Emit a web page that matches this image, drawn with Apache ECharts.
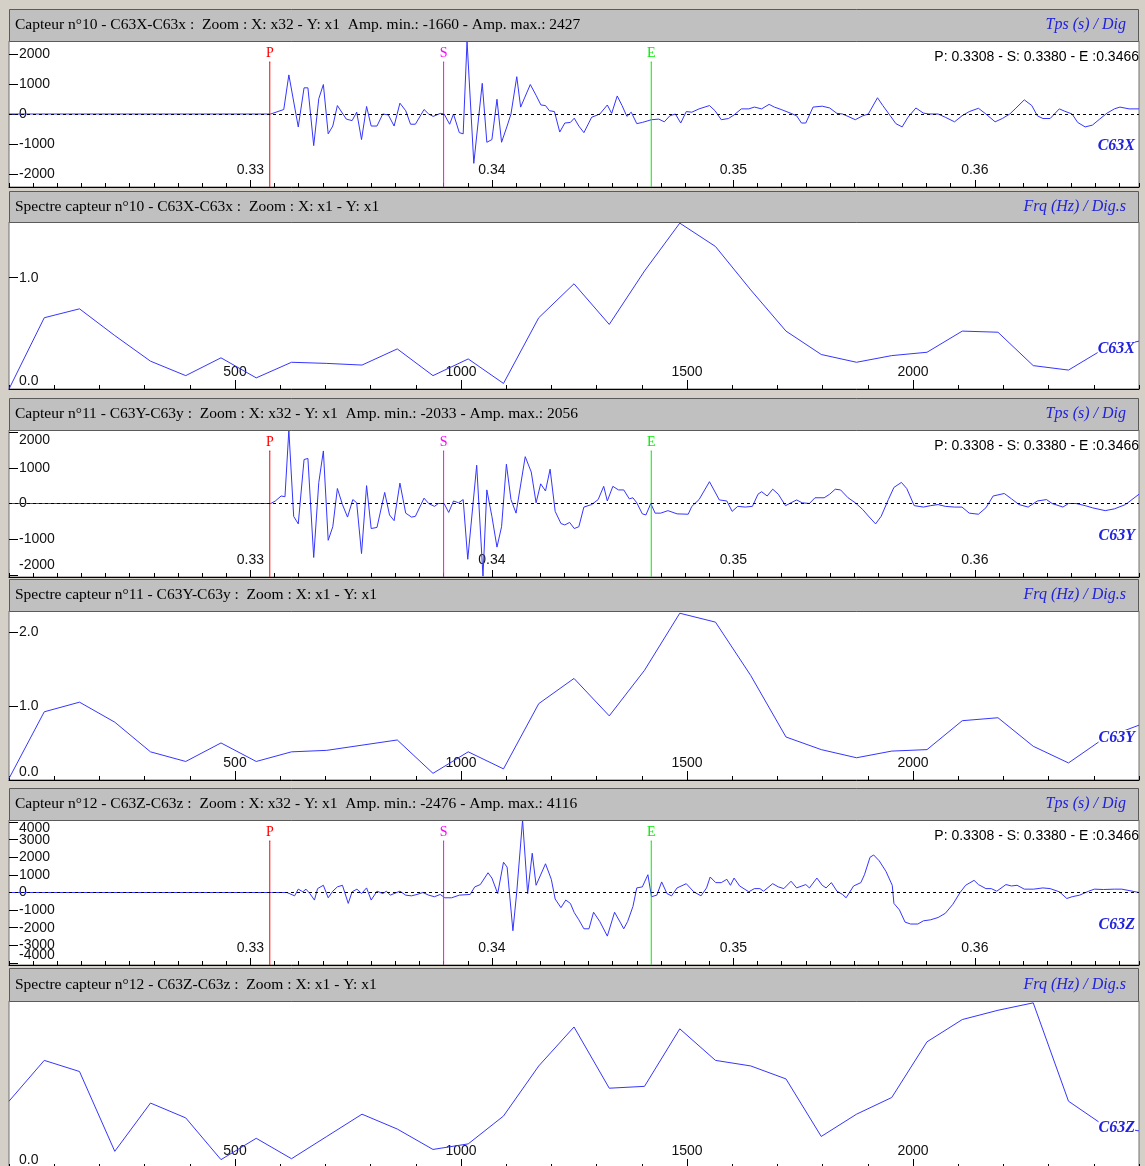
<!DOCTYPE html>
<html>
<head>
<meta charset="utf-8">
<script src="https://cdn.jsdelivr.net/npm/echarts@6/dist/echarts.min.js"></script>
<style>
html,body{margin:0;padding:0;background:#d4d0c8;}
#main{width:1145px;height:1166px;}
</style>
</head>
<body>
<div id="main"></div>
<script>
// ---- data ----
var timeTicks = [0.33, 0.34, 0.35, 0.36];
var freqTicks = [500, 1000, 1500, 2000];
var ampTicksX = [-2000, -1000, 0, 1000, 2000];
var ampTicksY = [-2000, -1000, 0, 1000, 2000];
var ampTicksZ = [-4000, -3000, -2000, -1000, 0, 1000, 2000, 3000, 4000];
var specTicksX = [0, 1];
var specTicksY = [0, 1, 2];
var specTicksZ = [0];

var channels = ['C63X', 'C63Y', 'C63Z'];
var ampMin = [-1660, -2033, -2476];
var ampMax = [2427, 2056, 4116];
var specMax = [1.5, 2.28, 0.9];

var timeTitles = [
  'Capteur n°10 - C63X-C63x :  Zoom : X: x32 - Y: x1  Amp. min.: -1660 - Amp. max.: 2427',
  'Capteur n°11 - C63Y-C63y :  Zoom : X: x32 - Y: x1  Amp. min.: -2033 - Amp. max.: 2056',
  'Capteur n°12 - C63Z-C63z :  Zoom : X: x32 - Y: x1  Amp. min.: -2476 - Amp. max.: 4116'
];
var specTitles = [
  'Spectre capteur n°10 - C63X-C63x :  Zoom : X: x1 - Y: x1',
  'Spectre capteur n°11 - C63Y-C63y :  Zoom : X: x1 - Y: x1',
  'Spectre capteur n°12 - C63Z-C63z :  Zoom : X: x1 - Y: x1'
];

var pickNames = ['P', 'S', 'E'];
var pickTimes = [0.3308, 0.3380, 0.3466];
var pickColors = ['#ff0000', '#ff00ff', '#00ee00'];

var xTime = [0.32, 0.33084, 0.33090, 0.33138, 0.33159, 0.33198, 0.33222, 0.33238, 0.33262, 0.33283, 0.33302, 0.33322, 0.33341, 0.33360, 0.33397, 0.33421, 0.33440, 0.33460, 0.33481, 0.33500, 0.33524, 0.33548, 0.33571, 0.33595, 0.33619, 0.33643, 0.33663, 0.33683, 0.33719, 0.33738, 0.33757, 0.33786, 0.33802, 0.33825, 0.33841, 0.33865, 0.33881, 0.33897, 0.33925, 0.33960, 0.33979, 0.34000, 0.34021, 0.34040, 0.34063, 0.34079, 0.34103, 0.34119, 0.34159, 0.34183, 0.34203, 0.34222, 0.34238, 0.34259, 0.34281, 0.34302, 0.34325, 0.34341, 0.34360, 0.34381, 0.34413,
  0.34447, 0.34478, 0.34496, 0.34519, 0.34539, 0.34559, 0.34577, 0.34600, 0.34623, 0.34661, 0.34691, 0.34714, 0.34737, 0.34760, 0.34782, 0.34805, 0.34828, 0.34858, 0.34901, 0.34924, 0.34950, 0.34980, 0.35003, 0.35033, 0.35064, 0.35087, 0.35117, 0.35148, 0.35170, 0.35201, 0.35239, 0.35262, 0.35282, 0.35300, 0.35330, 0.35368, 0.35399, 0.35429, 0.35452, 0.35475, 0.35505, 0.35536, 0.35559, 0.35597, 0.35619, 0.35650, 0.35673, 0.35699, 0.35723, 0.35756, 0.35787, 0.35810, 0.35848, 0.35878, 0.35916, 0.35947, 0.35977, 0.36015, 0.36046, 0.36084, 0.36114, 0.36145, 0.36167, 0.36205, 0.36236, 0.36259, 0.36282, 0.36312, 0.36350, 0.36373, 0.36403, 0.36426, 0.36457, 0.36487, 0.36517, 0.36548, 0.36578, 0.36601, 0.36639, 0.36680];
var xAmp = [0, 0, 60, 150, 1300, -430, 870, 870, -1050, 510, 980, -660, -400, 280, -170, -220, 60, -850, 250, -400, -400, 0, -30, -400, 360, 110, -340, -340, 150, 0, -80, 20, 0, -340, 0, -620, -660, 2427, -1640, 1020, -940, -850, 490, -940, -400, 0, 1240, 230, 980, 620, 300, 280, 110, 80, -600, -300, -280, -140, -400, -620, -110,
  0, 300, 20, 600, 280, -80, 60, -320, -280, -190, -170, -260, -60, 0, -300, 80, 60, 170, 280, 110, -190, -150, -30, 170, 170, 230, 170, 320, 230, 140, 20, -60, -300, -300, 230, 260, 200, 20, 0, -80, -190, -60, 0, 540, 280, -60, -320, -430, -110, 200, 30, 0, 0, -110, -260, -60, 80, 190, 0, -260, -150, 0, 170, 470, 280, -60, -150, -150, 170, 90, 0, -280, -430, -370, -170, 30, 170, 230, 170, 170];

var yTime = [0.32, 0.33084, 0.33103, 0.33127, 0.33143, 0.33159, 0.33179, 0.33198, 0.33222, 0.33238, 0.33262, 0.33283, 0.33302, 0.33322, 0.33341, 0.33360, 0.33381, 0.33402, 0.33424, 0.33440, 0.33460, 0.33481, 0.33500, 0.33524, 0.33556, 0.33576, 0.33595, 0.33619, 0.33643, 0.33667, 0.33683, 0.33719, 0.33738, 0.33762, 0.33778, 0.33802, 0.33821, 0.33841, 0.33862, 0.33881, 0.33900, 0.33937, 0.33963, 0.33979, 0.34000, 0.34021, 0.34040, 0.34060, 0.34079, 0.34100, 0.34138, 0.34163, 0.34183, 0.34202, 0.34222, 0.34241, 0.34262, 0.34286, 0.34302, 0.34322, 0.34341, 0.34360, 0.34381, 0.34413,
  0.34440, 0.34463, 0.34478, 0.34501, 0.34524, 0.34546, 0.34569, 0.34584, 0.34600, 0.34623, 0.34638, 0.34658, 0.34676, 0.34699, 0.34729, 0.34767, 0.34813, 0.34828, 0.34858, 0.34901, 0.34942, 0.34973, 0.34995, 0.35018, 0.35049, 0.35079, 0.35102, 0.35117, 0.35140, 0.35163, 0.35186, 0.35216, 0.35239, 0.35262, 0.35285, 0.35315, 0.35338, 0.35376, 0.35399, 0.35422, 0.35444, 0.35475, 0.35505, 0.35536, 0.35559, 0.35589, 0.35612, 0.35642, 0.35665, 0.35696, 0.35718, 0.35749, 0.35787, 0.35817, 0.35848, 0.35878, 0.35916, 0.35947, 0.35977, 0.36015, 0.36046, 0.36076, 0.36122, 0.36152, 0.36183, 0.36221, 0.36259, 0.36297, 0.36320, 0.36365, 0.36388, 0.36419, 0.36457, 0.36487, 0.36540, 0.36578, 0.36624, 0.36680];
var yAmp = [0, 0, 70, 210, 190, 2056, -360, -570, 1230, 1260, -1510, 590, 1470, -1030, -650, 420, -30, -380, 110, 20, -1400, 500, -700, -670, 310, -320, -480, 570, -270, -380, -360, 150, 0, -80, 0, 0, -250, 70, 20, 110, -1560, 1070, -2033, 380, -360, -1220, -650, 1100, 110, -270, 1310, 880, 20, 550, 350, 960, -220, -560, -600, -530, -700, -650, -100, -30,
  110, 480, 70, 480, 380, 380, 130, 160, 20, -290, -320, 0, -270, -270, -200, -290, -300, -80, 110, 610, 100, 70, -220, -80, -100, -80, 260, 330, 210, 400, 260, -60, 20, 100, 20, 0, 160, 160, 260, 400, 380, 160, 20, -170, -350, -570, -360, 110, 450, 590, 420, -60, -100, -60, -30, -80, -100, -100, -270, -300, -120, 210, 280, 130, -30, -100, 70, 110, 0, -100, 0, 0, -60, -120, -200, -150, -30, 260];

var zTime = [0.32, 0.33087, 0.33151, 0.33159, 0.33183, 0.33198, 0.33217, 0.33230, 0.33246, 0.33265, 0.33278, 0.33302, 0.33322, 0.33341, 0.33360, 0.33381, 0.33405, 0.33421, 0.33441, 0.33460, 0.33481, 0.33500, 0.33524, 0.33548, 0.33563, 0.33579, 0.33619, 0.33643, 0.33667, 0.33690, 0.33714, 0.33738, 0.33762, 0.33786, 0.33805, 0.33833, 0.33865, 0.33910, 0.33929, 0.33952, 0.33984, 0.34000, 0.34024, 0.34048, 0.34063, 0.34087, 0.34103, 0.34127, 0.34148, 0.34167, 0.34183, 0.34222, 0.34246, 0.34262, 0.34286, 0.34306, 0.34325, 0.34341, 0.34360, 0.34381, 0.34402, 0.34421,
  0.34447, 0.34478, 0.34508, 0.34531, 0.34546, 0.34562, 0.34584, 0.34600, 0.34623, 0.34646, 0.34661, 0.34683, 0.34703, 0.34725, 0.34744, 0.34767, 0.34805, 0.34836, 0.34866, 0.34889, 0.34904, 0.34927, 0.34950, 0.34973, 0.34988, 0.35003, 0.35026, 0.35064, 0.35087, 0.35110, 0.35125, 0.35163, 0.35186, 0.35209, 0.35239, 0.35262, 0.35300, 0.35315, 0.35346, 0.35368, 0.35384, 0.35406, 0.35429, 0.35452, 0.35467, 0.35498, 0.35528, 0.35543, 0.35566, 0.35581, 0.35604, 0.35632, 0.35658, 0.35665, 0.35688, 0.35711, 0.35734, 0.35764, 0.35787, 0.35817, 0.35848, 0.35878, 0.35909, 0.35939, 0.35962, 0.35997, 0.36015, 0.36046, 0.36068, 0.36091, 0.36129, 0.36152, 0.36175, 0.36205, 0.36244, 0.36282, 0.36312, 0.36350, 0.36381, 0.36403, 0.36434, 0.36472, 0.36495, 0.36533, 0.36578, 0.36609, 0.36680];
var zAmp = [0, 0, 0, 75, -190, 190, 40, 190, -60, -430, 220, 410, -300, 75, 320, 410, -620, 40, 190, -60, 260, -430, 75, -60, 75, -150, 75, -150, -190, -110, 0, -150, -240, -110, -300, -300, -150, -110, 320, 450, 1120, 820, -60, 1720, 1440, -2170, 40, 4116, -60, 2230, 410, 1630, 750, -370, -860, -430, -620, -1140, -1550, -2060, -2060, -1120,
  -1650, -2476, -1120, -1680, -2060, -1650, -800, 260, 320, 1010, -240, -150, 600, -60, -190, 260, 500, 40, -190, 260, 880, 560, 560, 750, 410, 820, 370, 40, 220, 220, 75, 500, 320, 220, 640, 260, 450, 260, 820, 410, 260, 560, 75, -110, -300, 370, 560, 1010, 2000, 2130, 1800, 1200, 410, -620, -990, -1680, -1790, -1790, -1610, -1550, -1420, -1180, -670, 0, 410, 690, 450, 220, 220, 75, 450, 370, 410, 190, 190, 260, 220, 40, -340, -240, -150, 75, 190, 170, 190, 190, 0];

var specFreq = [0, 78, 156, 234, 313, 391, 469, 547, 625, 703, 781, 859, 938, 1016, 1094, 1172, 1250, 1328, 1406, 1484, 1563, 1641, 1719, 1797, 1875, 1953, 2031, 2109, 2188, 2266, 2344, 2422, 2500];
var specX = [0, 0.64, 0.72, 0.48, 0.25, 0.12, 0.28, 0.10, 0.24, 0.23, 0.215, 0.36, 0.12, 0.27, 0.05, 0.64, 0.945, 0.58, 1.06, 1.49, 1.28, 0.89, 0.52, 0.31, 0.24, 0.30, 0.33, 0.52, 0.51, 0.21, 0.17, 0.36, 0.43];
var specY = [0.02, 0.92, 1.05, 0.78, 0.38, 0.25, 0.50, 0.25, 0.38, 0.40, 0.47, 0.54, 0.09, 0.38, 0.15, 1.03, 1.37, 0.865, 1.48, 2.25, 2.13, 1.41, 0.58, 0.41, 0.30, 0.39, 0.41, 0.80, 0.84, 0.455, 0.23, 0.56, 0.74];
var specZ = [0.36, 0.58, 0.52, 0.09, 0.35, 0.27, 0.045, 0.16, 0.05, 0.17, 0.29, 0.21, 0.10, 0.13, 0.28, 0.55, 0.76, 0.43, 0.44, 0.75, 0.58, 0.55, 0.48, 0.17, 0.29, 0.38, 0.68, 0.80, 0.85, 0.89, 0.36, 0.23, 0.20];

// ---- layout / style ----
var tMin = 0.32, tMax = 0.3668;
var fMin = 0, fMax = 2500;
var LEFT = 9, WIDTH = 1130;
var frames = [
  {hTop: 9, top: 41, height: 146},
  {hTop: 191, top: 222, height: 167},
  {hTop: 398, top: 430, height: 147},
  {hTop: 579, top: 611, height: 169},
  {hTop: 788, top: 820, height: 145},
  {hTop: 968, top: 1001, height: 167}
];
// labels that sit too close to the frame get nudged inwards (px of rich padding)
var ampClamp = [{top: 0, bot: 0}, {top: 17, bot: 19}, {top: 12, bot: 16}];
var specClamp = {top: 0, bot: 16};
var specLabelY = [349, 738, 1128];
var tickFamily = '"Liberation Sans", Arial, sans-serif';
var tickSize = 14;
var serif = '"Liberation Serif", "Times New Roman", serif';
var traceColor = '#3535ff';
var unitColor = '#2222dd';
var PICK_GAP = 21;

function zip(a, b) {
  var out = [];
  for (var i = 0; i < a.length; i++) out.push([a[i], b[i]]);
  return out;
}

var grids = [], xAxes = [], yAxes = [], series = [], graphics = [];

frames.forEach(function (f) {
  grids.push({left: LEFT, top: f.top, width: WIDTH, height: f.height, show: true,
    backgroundColor: '#ffffff', borderColor: '#707070', borderWidth: 1,
    containLabel: false, outerBoundsMode: 'none'});
});

function addXAxes(g, min, max, majors, minorStep, majorLen, fmt) {
  var idx = xAxes.length;
  xAxes.push({gridIndex: g, type: 'value', min: min, max: max, position: 'bottom',
    axisLine: {show: true, onZero: false, lineStyle: {color: '#000', width: 1}},
    axisTick: {show: true, inside: true, length: majorLen, customValues: majors, lineStyle: {color: '#000'}},
    axisLabel: {show: true, inside: true, customValues: majors, margin: 10, formatter: fmt,
      showMinLabel: true, showMaxLabel: true,
      color: '#111', fontSize: tickSize, fontFamily: tickFamily, hideOverlap: false},
    splitLine: {show: false}});
  xAxes.push({gridIndex: g, type: 'value', min: min, max: max, position: 'bottom', interval: minorStep,
    axisLine: {show: false, onZero: false},
    axisTick: {show: true, inside: true, length: 4, lineStyle: {color: '#000'}},
    axisLabel: {show: false}, splitLine: {show: false}});
  return idx;
}

// main y axis (ticks + inner labels) and a helper axis holding the nudged edge labels
function addYAxes(g, min, max, ticks, fmt, clamp) {
  var idx = yAxes.length;
  var hi = ticks[ticks.length - 1], lo = ticks[0];
  var edge = [], inner = [];
  ticks.forEach(function (v) {
    if ((clamp.top && v === hi) || (clamp.bot && v === lo)) edge.push(v); else inner.push(v);
  });
  var base = {color: '#111', fontSize: tickSize, fontFamily: tickFamily};
  yAxes.push({gridIndex: g, type: 'value', min: min, max: max, position: 'left',
    axisLine: {show: false, onZero: false},
    axisTick: {show: true, inside: true, length: 9, customValues: ticks, lineStyle: {color: '#000'}},
    axisLabel: Object.assign({show: inner.length > 0, inside: true, customValues: inner.length ? inner : ticks,
      margin: 10, showMinLabel: true, showMaxLabel: true, hideOverlap: false, formatter: fmt}, base),
    splitLine: {show: false}});
  if (edge.length) {
    yAxes.push({gridIndex: g, type: 'value', min: min, max: max, position: 'left',
      axisLine: {show: false, onZero: false}, axisTick: {show: false},
      axisLabel: Object.assign({show: true, inside: true, customValues: edge, margin: 10,
        showMinLabel: true, showMaxLabel: true, hideOverlap: false,
        formatter: function (v) {
          return (clamp.top && v === hi ? '{dn|' : '{up|') + fmt(v) + '}';
        },
        rich: {
          dn: Object.assign({padding: [clamp.top, 0, 0, 0]}, base),
          up: Object.assign({padding: [0, 0, clamp.bot, 0]}, base)
        }}, base),
      splitLine: {show: false}});
  }
  return idx;
}

var timeData = [zip(xTime, xAmp), zip(yTime, yAmp), zip(zTime, zAmp)];
var specData = [zip(specFreq, specX), zip(specFreq, specY), zip(specFreq, specZ)];
var ampTicks = [ampTicksX, ampTicksY, ampTicksZ];
var specTicks = [specTicksX, specTicksY, specTicksZ];

for (var k = 0; k < 3; k++) {
  // trace panel
  var g = 2 * k, f = frames[g];
  var amp = Math.max(-ampMin[k], ampMax[k]);
  var xi = addXAxes(g, tMin, tMax, timeTicks, 0.001, 7, function (v) { return v.toFixed(2); });
  var yi = addYAxes(g, -amp, amp, ampTicks[k], function (v) { return String(v); }, ampClamp[k]);
  series.push({type: 'line', xAxisIndex: xi, yAxisIndex: yi, data: timeData[k],
    showSymbol: false, symbol: 'none', animation: false,
    itemStyle: {color: traceColor},
    lineStyle: {color: traceColor, width: 1},
    markLine: {silent: true, symbol: ['none', 'none'], animation: false,
      lineStyle: {color: '#000', type: [3, 3], width: 1}, label: {show: false},
      data: [{yAxis: 0}]}});
  // picks P / S / E: a short vertical line each, lettered at its top end
  var topVal = amp - 2 * amp * PICK_GAP / f.height;
  for (var p = 0; p < pickNames.length; p++) {
    series.push({type: 'line', xAxisIndex: xi, yAxisIndex: yi, silent: true, animation: false,
      data: [[pickTimes[p], topVal], [pickTimes[p], -amp]],
      showSymbol: false, symbol: 'none',
      itemStyle: {color: pickColors[p]},
      lineStyle: {color: pickColors[p], width: 1},
      markPoint: {silent: true, animation: false, symbol: 'rect', symbolSize: 1,
        itemStyle: {color: pickColors[p]},
        label: {show: true, position: 'top', distance: 1, formatter: pickNames[p],
          color: pickColors[p], fontFamily: serif, fontSize: 14},
        data: [{coord: [pickTimes[p], topVal]}]}});
  }

  // spectrum panel
  var g2 = 2 * k + 1;
  var xi2 = addXAxes(g2, fMin, fMax, freqTicks, 100, 9, function (v) { return String(v); });
  var yi2 = addYAxes(g2, 0, specMax[k], specTicks[k], function (v) { return v.toFixed(1); }, specClamp);
  series.push({type: 'line', xAxisIndex: xi2, yAxisIndex: yi2, data: specData[k],
    showSymbol: false, symbol: 'none', animation: false,
    itemStyle: {color: traceColor},
    lineStyle: {color: traceColor, width: 1}});
}

// headers and texts
frames.forEach(function (f, i) {
  var isTime = i % 2 === 0, k = Math.floor(i / 2);
  var midY = (f.hTop + f.top) / 2;
  graphics.push({type: 'rect', z: 50,
    shape: {x: LEFT + 0.5, y: f.hTop + 0.5, width: WIDTH - 1, height: f.top - f.hTop},
    style: {fill: '#c0c0c0', stroke: '#5a5a5a', lineWidth: 1}});
  graphics.push({type: 'text', z: 51, x: 15, y: midY,
    style: {text: isTime ? timeTitles[k] : specTitles[k], font: '15.5px ' + serif, fill: '#000',
      align: 'left', verticalAlign: 'middle'}});
  graphics.push({type: 'text', z: 51, x: 1126, y: midY,
    style: {text: isTime ? 'Tps (s) / Dig' : 'Frq (Hz) / Dig.s', font: 'italic 16px ' + serif,
      fill: unitColor, align: 'right', verticalAlign: 'middle'}});
  if (isTime) {
    var pickText = 'P: ' + pickTimes[0].toFixed(4) + ' - S: ' + pickTimes[1].toFixed(4) +
      ' - E :' + pickTimes[2].toFixed(4);
    graphics.push({type: 'text', z: 51, x: 1139, y: f.top + 16,
      style: {text: pickText, font: tickSize + 'px ' + tickFamily, fill: '#000', align: 'right', verticalAlign: 'middle'}});
    graphics.push({type: 'text', z: 51, x: 1135, y: f.top + f.height / 2 + 32,
      style: {text: channels[k], font: 'italic bold 16px ' + serif, fill: unitColor, align: 'right', verticalAlign: 'middle'}});
  } else {
    graphics.push({type: 'text', z: 51, x: 1135, y: specLabelY[k],
      style: {text: channels[k], font: 'italic bold 16px ' + serif, fill: unitColor, align: 'right',
        verticalAlign: 'middle', backgroundColor: '#ffffff'}});
  }
});

var chart = echarts.init(document.getElementById('main'));
chart.setOption({
  animation: false,
  backgroundColor: '#d4d0c8',
  grid: grids,
  xAxis: xAxes,
  yAxis: yAxes,
  series: series,
  graphic: graphics
});
</script>
</body>
</html>
